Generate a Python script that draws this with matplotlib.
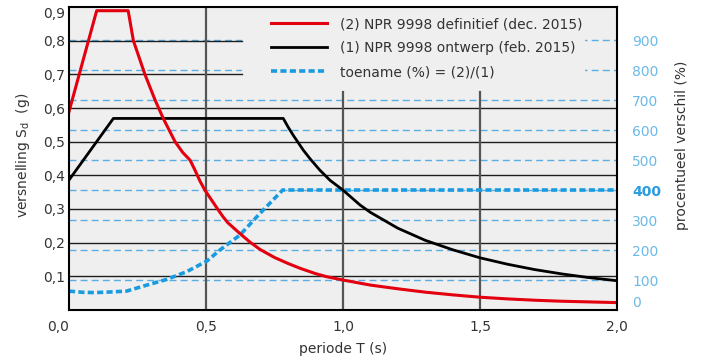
import matplotlib
matplotlib.use("Agg")
import matplotlib.pyplot as plt
from matplotlib.patches import Rectangle

plt.rcParams['font.family'] = ['DejaVu Sans']
plt.rcParams['mathtext.fontset'] = 'dejavusans'

# ---- data ----
T_red = [0.0, 0.101, 0.216, 0.235, 0.277, 0.314, 0.344, 0.387, 0.415, 0.442, 0.46,
         0.478, 0.496, 0.52, 0.539, 0.563, 0.58, 0.624, 0.66, 0.697, 0.75, 0.80,
         0.843, 0.90, 0.94, 1.0, 1.1, 1.2, 1.3, 1.4, 1.5, 1.6, 1.7, 1.8, 1.9, 2.0]
S_red = [0.589, 0.889, 0.889, 0.80, 0.70, 0.624, 0.569, 0.50, 0.468, 0.445, 0.415,
         0.383, 0.356, 0.327, 0.304, 0.276, 0.259, 0.227, 0.202, 0.180, 0.156, 0.138,
         0.124, 0.108, 0.099, 0.089, 0.074, 0.063, 0.053, 0.045, 0.038, 0.033, 0.029,
         0.026, 0.024, 0.022]

T_black = [0.0, 0.162, 0.782, 0.80, 0.82, 0.855, 0.88, 0.916, 0.953, 1.0, 1.062,
           1.1, 1.2, 1.3, 1.4, 1.5, 1.6, 1.7, 1.8, 1.9, 2.0]
S_black = [0.386, 0.569, 0.569, 0.543, 0.517, 0.475, 0.449, 0.415, 0.385, 0.356,
           0.312, 0.290, 0.243, 0.207, 0.179, 0.155, 0.136, 0.120, 0.107, 0.096, 0.087]

T_pct = [0.0, 0.05, 0.095, 0.15, 0.21, 0.284, 0.357, 0.43, 0.503, 0.551, 0.624,
         0.697, 0.78, 2.0]
pct = [63, 59, 58, 60, 63, 83, 102, 128, 163, 200, 250, 322, 400, 400]

x_ticks = [0.0, 0.5, 1.0, 1.5, 2.0]
x_ticklabels = ['0,0', '0,5', '1,0', '1,5', '2,0']
y_ticks = [0.1, 0.2, 0.3, 0.4, 0.5, 0.6, 0.7, 0.8, 0.9]
y_ticklabels = ['0,1', '0,2', '0,3', '0,4', '0,5', '0,6', '0,7', '0,8', '0,9']
p_ticks = [0, 100, 200, 300, 400, 500, 600, 700, 800, 900]

labels = ['(2) NPR 9998 definitief (dec. 2015)',
          '(1) NPR 9998 ontwerp (feb. 2015)',
          'toename (%) = (2)/(1)']

# ---- figure ----
W, H = 701, 358
fig = plt.figure(figsize=(W / 100, H / 100), dpi=100)
L, R, B, TOP = 69, 617, 310, 7
ax = fig.add_axes([L / W, (H - B) / H, (R - L) / W, (B - TOP) / H])
ax2 = ax.twinx()

ax.set_xlim(0, 2.0)
ax.set_ylim(0, 0.9)
ax2.set_ylim(0, 1010)

ax.set_zorder(ax2.get_zorder() + 1)
ax.patch.set_visible(False)
ax2.patch.set_visible(True)
ax2.patch.set_facecolor('#efefef')

# legend area (axes fractions)
lx0 = (242 - L) / (R - L)
lx1 = (585 - L) / (R - L)
ly0 = (B - 92) / (B - TOP)

blue_grid = '#5aaee4'
for p in p_ticks[1:]:
    ax2.axhline(p, color=blue_grid, lw=1.0, dashes=(5, 3), zorder=1)
ax2.add_patch(Rectangle((lx0, ly0), lx1 - lx0, 1.0 - ly0, transform=ax2.transAxes,
                        facecolor='#efefef', edgecolor='none', zorder=2))

ylim_top = 0.9
for y in y_ticks[:-1]:
    if y / ylim_top > ly0:
        ax.axhline(y, xmax=lx0, color='#1e1e1e', lw=1.0, zorder=1)
    else:
        ax.axhline(y, color='#1e1e1e', lw=1.0, zorder=1)
for x in x_ticks[1:-1]:
    if x / 2.0 > lx0:
        ax.axvline(x, ymax=ly0, color='#555555', lw=1.6, zorder=1)
    else:
        ax.axvline(x, color='#555555', lw=1.6, zorder=1)

l_blue, = ax.plot(T_pct, pct, color='#1a9be0', lw=2.6, dashes=(1.7, 0.9),
                  transform=ax2.transData, zorder=3, solid_capstyle='butt')
l_black, = ax.plot(T_black, S_black, color='black', lw=2.0, zorder=4)
l_red, = ax.plot(T_red, S_red, color='#e3000f', lw=2.2, zorder=5)

for sp in ['left', 'right', 'top', 'bottom']:
    ax.spines[sp].set_color('black')
    ax.spines[sp].set_linewidth(1.5)
    ax.spines[sp].set_zorder(6)
for sp in ax2.spines.values():
    sp.set_visible(False)

txt = '#333333'
ax.set_xticks(x_ticks)
ax.set_xticklabels(x_ticklabels, fontsize=10, color=txt)
ax.set_yticks(y_ticks)
ax.set_yticklabels(y_ticklabels, fontsize=10, color=txt)
ax.tick_params(axis='both', length=0)
ax.tick_params(axis='x', pad=7)
ax.tick_params(axis='y', pad=3)
ax.get_xticklabels()[0].set_ha('right')
ax.get_yticklabels()[-1].set_va('top')

ax2.set_yticks(p_ticks)
ax2.set_yticklabels([str(p) for p in p_ticks], fontsize=10, color='#6cb9e8')
ax2.tick_params(axis='y', length=0, pad=11)
tl = ax2.get_yticklabels()
tl[0].set_va('bottom')
tl[4].set_fontweight('bold')
tl[4].set_color('#2a9de0')

ax.set_xlabel('periode T (s)', fontsize=10, color=txt, labelpad=6)
ax.set_ylabel(r'versnelling S$_{\rm d}$  (g)', fontsize=10, color=txt)
ax.yaxis.set_label_coords(-0.068, 0.51)
ax2.set_ylabel('procentueel verschil (%)', fontsize=10, color=txt)
ax2.yaxis.set_label_coords(1.106, 0.545)

leg = ax.legend([l_red, l_black, l_blue], labels, loc='upper left',
                bbox_to_anchor=(271 / W, (H - 17) / H), bbox_transform=fig.transFigure,
                frameon=False, fontsize=10, handlelength=4.0, handletextpad=0.95,
                labelspacing=0.73, borderpad=0, borderaxespad=0)
for t in leg.get_texts():
    t.set_color(txt)
leg.set_zorder(7)

fig.savefig('out.png', dpi=100, facecolor='white')
